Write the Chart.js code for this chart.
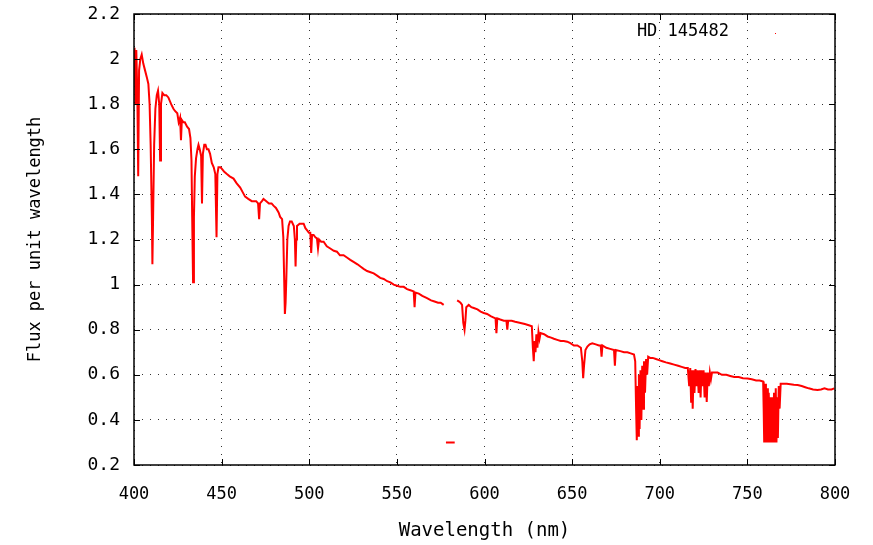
<!DOCTYPE html>
<html>
<head>
<meta charset="utf-8">
<script src="https://cdn.jsdelivr.net/npm/chart.js@4.4.1/dist/chart.umd.min.js"></script>
<style>
  html, body { margin: 0; padding: 0; background: #fff; }
  #wrap { width: 873px; height: 545px; }
</style>
</head>
<body>
<div id="wrap"><canvas id="spectrum" width="873" height="545"></canvas></div>
<script>
// spectrum of HD 145482 (null = gap in the data)
const wavelength = [
  400.3, 400.8, 401.3, 401.9, 402.4, 402.9, 403.6, 404.4, 405.3, 406.3, 407.3, 408.2, 408.9, 409.5, 410.2, 410.5, 410.9, 411.5, 412.2, 413.0,
  413.7, 414.4, 414.9, 415.4, 416.2, 417.2, 418.4, 419.6, 421.2, 422.5, 423.4, 424.7, 425.5, 426.3, 426.8, 427.3, 428.2, 429.0, 430.3, 431.4,
  432.2, 432.8, 433.2, 433.7, 434.2, 434.7, 435.4, 436.2, 436.8, 437.5, 438.3, 438.8, 439.3, 440.1, 440.8, 441.6, 442.5, 443.4, 444.4, 445.5,
  446.4, 447.1, 447.6, 448.2, 449.4, 450.5, 451.5, 453.0, 454.6, 456.8, 458.5, 460.6, 462.0, 463.4, 465.2, 467.2, 468.5, 469.7, 470.8, 471.4,
  471.9, 473.0, 473.9, 475.5, 477.0, 478.5, 479.6, 481.0, 482.5, 483.4, 484.5, 485.2, 485.7, 486.1, 486.5, 486.9, 487.5, 488.2, 489.0, 490.0,
  491.2, 491.8, 492.2, 492.6, 493.0, 494.5, 496.0, 496.8, 497.8, 498.8, 499.8, 500.6, 501.1, 501.6, 502.5, 503.5, 504.4, 505.0, 505.6, 506.8,
  508.2, 510.0, 512.0, 514.0, 515.8, 517.5, 519.6, 521.5, 523.4, 525.5, 527.5, 529.2, 531.0, 533.0, 535.0, 536.8, 538.7, 540.5, 542.5, 544.5,
  546.3, 548.2, 550.1, 552.0, 553.9, 555.8, 557.7, 559.6, 560.1, 560.6, 562.5, 564.5, 567.2, 569.5, 571.5, 573.5, 575.0, 576.7, 577.5,
  578.0, 583.0, 583.5,
  584.4, 585.5, 586.3, 587.2, 587.9, 588.6, 589.1, 589.6, 591.0, 592.5, 593.9, 596.0, 597.8, 599.6, 601.5, 603.5, 605.0, 606.3, 606.8, 607.3,
  609.0, 611.0, 612.5, 613.0, 613.5, 615.5, 617.5, 620.6, 623.0, 625.3, 627.0, 627.6, 628.1, 628.6, 629.1, 629.6, 630.2, 630.8, 631.4, 632.0,
  634.0, 636.0, 638.0, 639.6, 641.5, 643.5, 645.2, 647.2, 649.0, 651.0, 653.0, 655.0, 655.8, 656.3, 656.8, 657.6, 658.7, 660.0, 661.5, 663.5,
  665.3, 666.3, 666.8, 667.3, 669.5, 671.7, 673.9, 674.4, 674.9, 677.5, 679.6, 681.5, 683.4, 685.3, 686.0, 686.5, 686.9, 687.3, 687.7, 688.1,
  688.5, 689.0, 689.5, 690.0, 690.5, 691.0, 691.6, 692.2, 692.8, 693.4, 694.5, 696.0, 697.8, 699.6, 701.5, 703.5, 706.0, 708.2, 710.5, 712.5,
  714.5, 716.0, 716.8, 717.4, 717.9, 718.4, 718.8, 719.3, 719.8, 720.4, 721.0, 721.6, 722.2, 722.8, 723.3, 723.8, 724.4, 725.0, 725.6, 726.2,
  726.8, 727.4, 728.0, 728.6, 729.2, 729.8, 731.0, 733.0, 735.5, 738.0, 740.2, 742.5, 745.0, 747.5, 750.1, 752.5, 755.0, 757.0, 759.0, 759.3,
  759.6, 760.2, 760.6, 761.2, 761.7, 762.2, 762.7, 763.2, 763.7, 764.2, 764.7, 765.2, 765.7, 766.2, 766.6, 767.0, 767.4, 767.9, 768.4, 769.0,
  770.5, 772.5, 774.5, 776.5, 778.7, 781.0, 783.0, 785.0, 787.5, 790.0, 792.0, 794.0, 796.0, 798.0, 799.6
];
const flux = [
  2.05, 1.80, 2.04, 1.85, 1.48, 1.95, 2.00, 2.02, 1.98, 1.95, 1.92, 1.89, 1.80, 1.62, 1.30, 1.09, 1.30, 1.62, 1.78, 1.84,
  1.86, 1.80, 1.55, 1.80, 1.85, 1.84, 1.84, 1.83, 1.80, 1.78, 1.77, 1.76, 1.72, 1.74, 1.64, 1.73, 1.72, 1.72, 1.70, 1.69,
  1.65, 1.55, 1.30, 1.01, 1.30, 1.48, 1.56, 1.60, 1.62, 1.60, 1.57, 1.36, 1.58, 1.62, 1.62, 1.60, 1.60, 1.58, 1.54, 1.52,
  1.49, 1.21, 1.49, 1.52, 1.52, 1.51, 1.50, 1.49, 1.48, 1.47, 1.45, 1.43, 1.41, 1.39, 1.38, 1.37, 1.37, 1.37, 1.36, 1.29,
  1.36, 1.37, 1.38, 1.37, 1.36, 1.36, 1.35, 1.34, 1.32, 1.30, 1.29, 1.21, 1.02, 0.87, 0.92, 1.02, 1.20, 1.26, 1.28, 1.28,
  1.26, 1.20, 1.08, 1.20, 1.26, 1.27, 1.27, 1.27, 1.25, 1.24, 1.23, 1.23, 1.14, 1.22, 1.22, 1.21, 1.205, 1.16, 1.20, 1.19,
  1.19, 1.17, 1.16, 1.15, 1.146, 1.13, 1.13, 1.12, 1.11, 1.10, 1.09, 1.08, 1.07, 1.06, 1.055, 1.05, 1.04, 1.03, 1.025, 1.015,
  1.01, 1.00, 0.995, 0.99, 0.99, 0.98, 0.975, 0.97, 0.90, 0.965, 0.96, 0.95, 0.94, 0.93, 0.925, 0.92, 0.92, 0.91, null,
  0.30, 0.30, null,
  0.93, 0.925, 0.92, 0.91, 0.83, 0.80, 0.84, 0.90, 0.91, 0.90, 0.896, 0.89, 0.88, 0.874, 0.87, 0.86, 0.855, 0.85, 0.785, 0.85,
  0.845, 0.84, 0.84, 0.80, 0.84, 0.84, 0.835, 0.83, 0.825, 0.82, 0.815, 0.72, 0.66, 0.75, 0.70, 0.78, 0.72, 0.79, 0.76, 0.785,
  0.78, 0.77, 0.765, 0.76, 0.755, 0.75, 0.75, 0.747, 0.74, 0.73, 0.73, 0.72, 0.66, 0.585, 0.64, 0.71, 0.725, 0.735, 0.74, 0.735,
  0.73, 0.73, 0.68, 0.73, 0.72, 0.715, 0.71, 0.64, 0.71, 0.705, 0.70, 0.70, 0.695, 0.69, 0.66, 0.45, 0.31, 0.55, 0.33, 0.60,
  0.36, 0.62, 0.40, 0.64, 0.45, 0.66, 0.52, 0.67, 0.60, 0.68, 0.675, 0.675, 0.67, 0.665, 0.66, 0.655, 0.65, 0.645, 0.64, 0.635,
  0.63, 0.63, 0.55, 0.63, 0.48, 0.62, 0.45, 0.62, 0.52, 0.625, 0.55, 0.62, 0.52, 0.62, 0.50, 0.62, 0.55, 0.62, 0.50, 0.61,
  0.48, 0.61, 0.55, 0.61, 0.58, 0.61, 0.61, 0.61, 0.60, 0.60, 0.595, 0.59, 0.59, 0.585, 0.584, 0.58, 0.575, 0.575, 0.57, 0.45,
  0.30, 0.56, 0.30, 0.54, 0.30, 0.52, 0.30, 0.50, 0.30, 0.50, 0.30, 0.52, 0.30, 0.54, 0.30, 0.50, 0.32, 0.55, 0.45, 0.56,
  0.56, 0.56, 0.558, 0.556, 0.555, 0.55, 0.545, 0.54, 0.535, 0.533, 0.535, 0.54, 0.535, 0.535, 0.54
];
const xTicks = [400, 450, 500, 550, 600, 650, 700, 750, 800];
const yTicks = [0.2, 0.4, 0.6, 0.8, 1, 1.2, 1.4, 1.6, 1.8, 2, 2.2];
const starName = 'HD 145482';

const points = wavelength.map((w, i) => ({ x: w, y: flux[i] }));

// gnuplot-style frame, inward tick marks and the key in the top-right corner
const frame = {
  id: 'frame',
  afterDraw(chart) {
    const { ctx, chartArea: a, scales } = chart;
    ctx.save();
    ctx.strokeStyle = '#000';
    ctx.lineWidth = 1;
    ctx.beginPath();
    xTicks.forEach(v => {
      const px = Math.round(scales.x.getPixelForValue(v)) + 0.5;
      ctx.moveTo(px, a.bottom); ctx.lineTo(px, a.bottom - 6);
      ctx.moveTo(px, a.top); ctx.lineTo(px, a.top + 6);
    });
    yTicks.forEach(v => {
      const py = Math.round(scales.y.getPixelForValue(v)) + 0.5;
      ctx.moveTo(a.left, py); ctx.lineTo(a.left + 6, py);
      ctx.moveTo(a.right, py); ctx.lineTo(a.right - 6, py);
    });
    ctx.stroke();
    ctx.lineWidth = 1.5;
    ctx.strokeRect(a.left, a.top, a.right - a.left, a.bottom - a.top);

    ctx.font = '17px "DejaVu Sans Mono"';
    ctx.fillStyle = '#000';
    ctx.textAlign = 'right';
    ctx.textBaseline = 'middle';
    ctx.fillText(starName, a.right - 106, a.top + 18);
    ctx.fillStyle = '#ff0000';
    ctx.fillRect(a.right - 60, a.top + 19, 1, 1);
    ctx.restore();
  }
};

const dotted = { display: false, dash: [1, 7] };

new Chart(document.getElementById('spectrum'), {
  type: 'line',
  data: {
    datasets: [{
      label: starName,
      data: points,
      borderColor: '#ff0000',
      backgroundColor: '#ff0000',
      borderWidth: 2,
      pointRadius: 0,
      tension: 0,
      spanGaps: false
    }]
  },
  options: {
    responsive: false,
    animation: false,
    devicePixelRatio: 1,
    layout: { padding: { top: 14, right: 38, left: 0, bottom: 0 } },
    plugins: { legend: { display: false }, tooltip: { enabled: false } },
    scales: {
      x: {
        type: 'linear',
        min: 400, max: 800,
        afterFit(s) { s.height = 80; s.paddingLeft = 0; s.paddingRight = 0; },
        afterBuildTicks(s) { s.ticks = xTicks.map(v => ({ value: v })); },
        ticks: { color: '#000', padding: 19, font: { family: 'DejaVu Sans Mono', size: 17 } },
        grid: { color: '#333', drawTicks: false },
        border: dotted,
        title: {
          display: true, text: 'Wavelength (nm)', color: '#000',
          font: { family: 'DejaVu Sans Mono', size: 19 }, padding: { bottom: 3 }
        }
      },
      y: {
        min: 0.2, max: 2.2,
        afterFit(s) { s.width = 134; s.paddingTop = 0; s.paddingBottom = 0; },
        afterBuildTicks(s) { s.ticks = yTicks.map(v => ({ value: v })); },
        ticks: {
          color: '#000', padding: 14, font: { family: 'DejaVu Sans Mono', size: 18 },
          callback: v => String(+v.toFixed(1))
        },
        grid: { color: '#333', drawTicks: false },
        border: dotted,
        title: {
          display: true, text: 'Flux per unit wavelength', color: '#000',
          font: { family: 'DejaVu Sans Mono', size: 17 }, padding: { top: 25 }
        }
      }
    }
  },
  plugins: [frame]
});
</script>
</body>
</html>
